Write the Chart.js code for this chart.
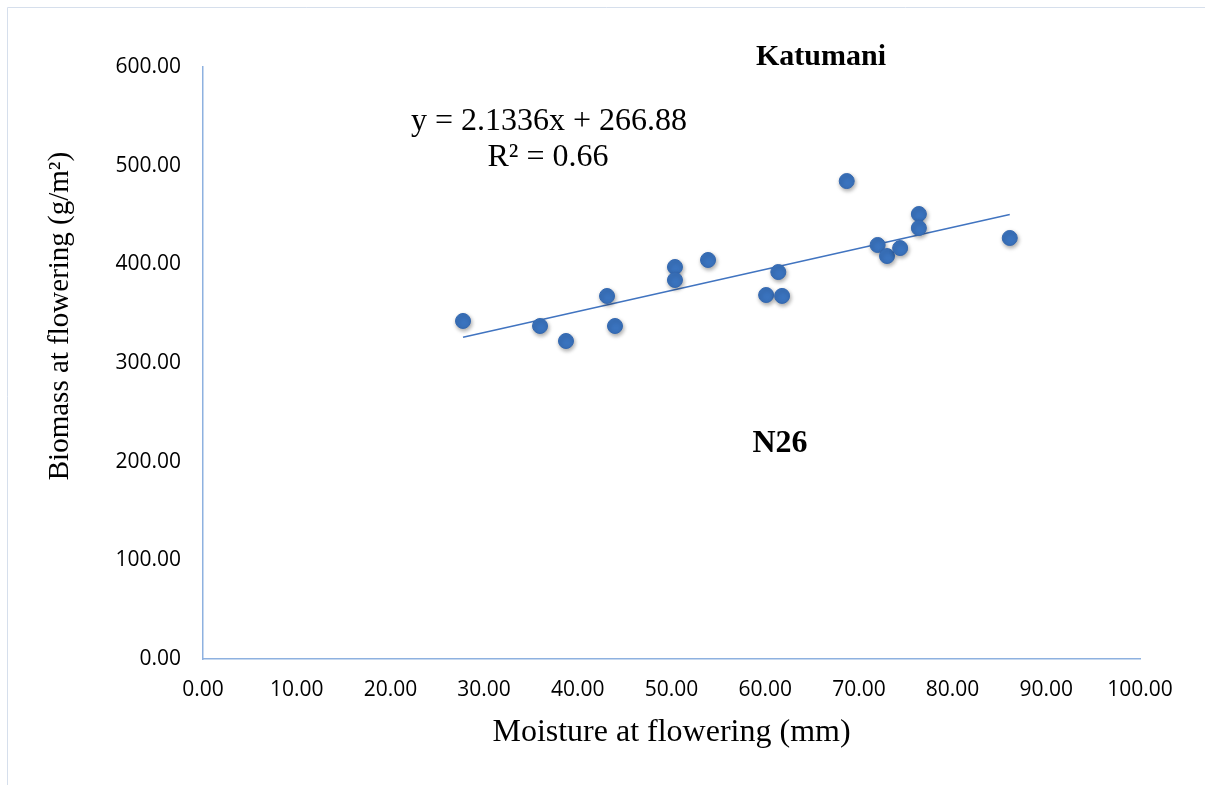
<!DOCTYPE html>
<html>
<head>
<meta charset="utf-8">
<script src="https://cdn.jsdelivr.net/npm/chart.js@4/dist/chart.umd.min.js"></script>
<style>
  html, body { margin: 0; padding: 0; background: #fff; }
  #wrap { position: relative; width: 1205px; height: 785px; }
</style>
</head>
<body>
<div id="wrap"><canvas id="scatterChart" width="1205" height="785"></canvas></div>
<script>
// Dados
const moisture = [27.75, 35.97, 38.74, 43.12, 43.97, 50.37, 50.37, 53.9, 60.1, 61.8, 61.4, 68.7, 72.0, 73.0, 74.4, 76.4, 76.4, 86.1];
const biomass  = [342.6, 337.5, 322.3, 367.9, 337.5, 397.3, 384.1, 404.4, 368.9, 368.0, 392.2, 484.4, 419.6, 408.4, 416.5, 451.0, 436.8, 426.7];

// Linha de tendência (y = 2.1336x + 266.88)
const trendX = [27.75, 86.1];
const trendY = [326.1, 450.6];

const xTicks = [0, 10, 20, 30, 40, 50, 60, 70, 80, 90, 100];
const yTicks = [0, 100, 200, 300, 400, 500, 600];

const equationText = 'y = 2.1336x + 266.88';
const r2Text = 'R² = 0.66';
const siteLabel = 'Katumani';
const varietyLabel = 'N26';
const xTitle = 'Moisture at flowering (mm)';
const yTitle = 'Biomass at flowering (g/m²)';

const axisColor = '#8EB1E0';
const pointColor = '#3A73BE';
const lineColor = '#4174C0';

// Plugin para textos e moldura
const textPlugin = {
    id: 'textPlugin',
    beforeDraw(chart) {
        const ctx = chart.ctx;
        ctx.save();
        ctx.strokeStyle = '#D6DFEC';
        ctx.lineWidth = 1;
        ctx.beginPath();
        ctx.moveTo(7.5, 785);
        ctx.lineTo(7.5, 7.5);
        ctx.lineTo(1205, 7.5);
        ctx.stroke();
        ctx.restore();
    },
    afterDraw(chart) {
        const ctx = chart.ctx;
        const area = chart.chartArea;
        ctx.save();
        ctx.fillStyle = '#000';
        ctx.textAlign = 'center';
        ctx.textBaseline = 'middle';

        ctx.font = 'bold 30px "Liberation Serif", "Times New Roman", serif';
        ctx.fillText(siteLabel, 821, 57);
        ctx.font = 'bold 32px "Liberation Serif", "Times New Roman", serif';
        ctx.fillText(varietyLabel, 780, 444);

        ctx.font = '32px "Liberation Serif", "Times New Roman", serif';
        ctx.fillText(equationText, 549, 122);
        ctx.fillText(r2Text, 548, 158);

        ctx.font = '32px "Liberation Serif", "Times New Roman", serif';
        ctx.fillText(xTitle, (area.left + area.right) / 2, 733);

        ctx.translate(60, 316);
        ctx.rotate(-Math.PI / 2);
        ctx.font = '29px "Liberation Serif", "Times New Roman", serif';
        ctx.fillText(yTitle, 0, 0);
        ctx.restore();
    }
};

// Sombra dos pontos
const shadowPlugin = {
    id: 'shadowPlugin',
    beforeDatasetDraw(chart, args) {
        if (args.index !== 0) return;
        const ctx = chart.ctx;
        ctx.save();
        ctx.shadowColor = 'rgba(0, 0, 0, 0.35)';
        ctx.shadowBlur = 4;
        ctx.shadowOffsetX = 1;
        ctx.shadowOffsetY = 2;
    },
    afterDatasetDraw(chart, args) {
        if (args.index !== 0) return;
        chart.ctx.restore();
    }
};

function createScatterChart() {
    const ctx = document.getElementById('scatterChart').getContext('2d');

    window.scatterChart = new Chart(ctx, {
        type: 'scatter',
        data: {
            datasets: [{
                label: 'N26',
                data: moisture.map((x, i) => ({ x: x, y: biomass[i] })),
                backgroundColor: pointColor,
                borderColor: '#3468B0',
                borderWidth: 1,
                pointRadius: 7.5,
                pointHoverRadius: 7.5
            }, {
                label: 'Trend',
                type: 'line',
                data: trendX.map((x, i) => ({ x: x, y: trendY[i] })),
                borderColor: lineColor,
                borderWidth: 1.5,
                pointRadius: 0,
                fill: false,
                tension: 0
            }]
        },
        options: {
            responsive: false,
            animation: false,
            layout: {
                padding: { top: 67, right: 65, bottom: 0, left: 0 }
            },
            plugins: {
                legend: { display: false },
                tooltip: { enabled: false }
            },
            scales: {
                x: {
                    type: 'linear',
                    min: 0,
                    max: 100,
                    afterBuildTicks: s => { s.ticks = xTicks.map(v => ({ value: v })); },
                    afterFit: s => { s.height = 126; },
                    grid: { display: false, drawTicks: false },
                    border: { display: true, color: axisColor, width: 1.5 },
                    ticks: {
                        padding: 18,
                        color: '#000',
                        maxRotation: 0,
                        font: { family: '"Open Sans", sans-serif', size: 21 },
                        callback: v => Number(v).toFixed(2)
                    }
                },
                y: {
                    type: 'linear',
                    min: 0,
                    max: 600,
                    afterBuildTicks: s => { s.ticks = yTicks.map(v => ({ value: v })); },
                    afterFit: s => { s.width = 203; },
                    grid: { display: false, drawTicks: false },
                    border: { display: true, color: axisColor, width: 1.5 },
                    ticks: {
                        padding: 22,
                        color: '#000',
                        font: { family: '"Open Sans", sans-serif', size: 21 },
                        callback: v => Number(v).toFixed(2)
                    }
                }
            }
        },
        plugins: [textPlugin, shadowPlugin]
    });
}

createScatterChart();
</script>
</body>
</html>
